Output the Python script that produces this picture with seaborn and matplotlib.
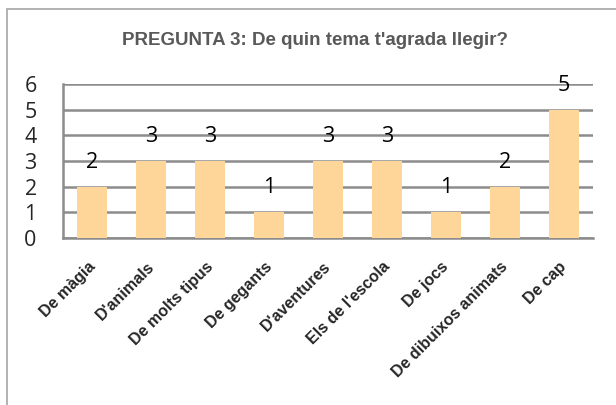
import matplotlib
matplotlib.use("Agg")
import matplotlib.pyplot as plt
import matplotlib.transforms as mtransforms
import seaborn as sns
import pandas as pd
from matplotlib.patches import Rectangle

# dades del gràfic
categories = ["De màgia", "D'animals", "De molts tipus", "De gegants", "D'aventures",
              "Els de l'escola", "De jocs", "De dibuixos animats", "De cap"]
valors = [2, 3, 3, 1, 3, 3, 1, 2, 5]
ticks_y = [0, 1, 2, 3, 4, 5, 6]

df = pd.DataFrame({"categoria": categories, "valor": valors})

sns.set_theme(style="white")
plt.rcParams['font.family'] = ['Liberation Sans', 'DejaVu Sans']

fig = plt.figure(figsize=(6.16, 4.05), dpi=100)
ax = fig.add_axes([0.1023, 0.4123, 0.8604, 0.3803])

gris = "#8c8c8c"
sns.barplot(data=df, x="categoria", y="valor", color="#FFD699", saturation=1,
            width=0.51, ax=ax, zorder=3, linewidth=0)

# etiquetes de valor sobre les barres
for i, v in enumerate(valors):
    ax.text(i, v + 0.55, str(v), ha="center", va="bottom", fontsize=15.5,
            family=["Open Sans", "DejaVu Sans"], color="black", zorder=4)

ax.set_ylim(0, 6)
ax.set_xlim(-0.5, len(categories) - 0.5)
ax.set_yticks(ticks_y)
ax.set_yticklabels([str(t) for t in ticks_y], fontsize=15.5, family=["Open Sans", "DejaVu Sans"])
ax.yaxis.grid(True, color=gris, linewidth=1.8, zorder=0)
ax.set_axisbelow(True)

# marques de l'eix x entre categories
ax.set_xticks([i - 0.5 for i in range(len(categories) + 1)], minor=False)
ax.set_xticklabels([])
ax.set_xticks(range(len(categories)), minor=True)
ax.set_xticklabels(categories, minor=True, rotation=45, ha="right",
                   rotation_mode="anchor", fontsize=11.5, fontweight="bold")
ax.tick_params(axis="x", which="minor", length=0, pad=15)
ax.tick_params(axis="x", which="major", length=6, width=1.8, color=gris, direction="out")
ax.tick_params(axis="y", length=7, width=1.8, color=gris, direction="out", pad=12)

# petit desplaçament a l'esquerra de les etiquetes
desp = mtransforms.ScaledTranslation(-5 / 100, 0, fig.dpi_scale_trans)
for lbl in ax.xaxis.get_minorticklabels():
    lbl.set_transform(lbl.get_transform() + desp)

for s in ["top", "right"]:
    ax.spines[s].set_visible(False)
for s in ["left", "bottom"]:
    ax.spines[s].set_color(gris)
    ax.spines[s].set_linewidth(1.8)

ax.set_xlabel("")
ax.set_ylabel("")

fig.text(0.5106, 0.9, "PREGUNTA 3: De quin tema t'agrada llegir?", ha="center", va="center",
         fontsize=13.5, fontweight="bold", color="#595959")

# marc exterior del gràfic
fig.patches.append(Rectangle((7 / 616, -0.01), 1.1, 1 - 9 / 405 + 0.01, transform=fig.transFigure,
                             fill=False, edgecolor="#a6a6a6", linewidth=1.2))

fig.savefig("out.png", dpi=100)
